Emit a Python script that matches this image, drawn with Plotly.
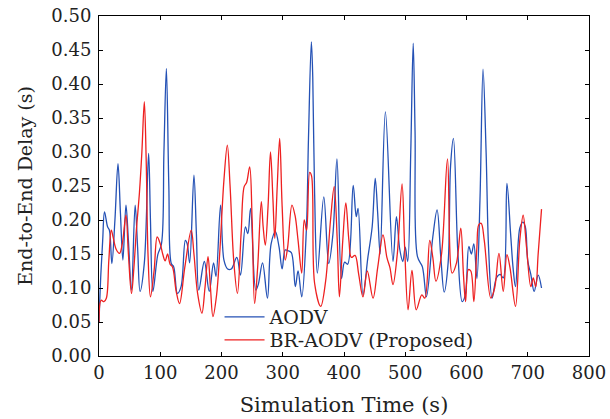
import plotly.graph_objects as go

# AODV series (simulation time in s, delay in s)
aodv_t = [0, 3, 6, 9, 14, 17, 21, 26, 31, 35, 39, 44, 48, 53, 59, 63, 67, 74, 81, 84, 88, 96, 102, 106, 110, 114, 118, 122, 128, 134, 141, 144, 148, 155, 159, 163, 172, 180, 187, 191, 198.5, 204, 210, 216, 225, 231, 239, 243, 247.5, 256, 260, 267, 275, 281, 288, 294, 299, 304, 308, 314, 320.5, 325, 331, 338.5, 342, 346.7, 349, 352, 356.5, 367, 375, 382, 388.5, 396, 401, 406, 415, 420, 423, 431, 439, 446, 451, 455, 459, 467.6, 480, 485.6, 491, 496, 500, 504, 509, 513, 516, 520, 528, 534.6, 545, 552, 558, 563.5, 570, 574, 578.7, 586, 593, 598, 603.8, 608, 612, 617, 622, 627, 632, 636, 641.8, 649, 655, 660, 666, 672, 676, 680, 687, 692, 696, 700, 705, 710.5, 717, 722.5]
aodv_d = [0.05, 0.12, 0.17, 0.212, 0.19, 0.185, 0.136, 0.2, 0.283, 0.21, 0.141, 0.222, 0.17, 0.097, 0.222, 0.16, 0.095, 0.137, 0.298, 0.2, 0.095, 0.149, 0.165, 0.3, 0.423, 0.25, 0.136, 0.131, 0.092, 0.102, 0.17, 0.165, 0.137, 0.266, 0.18, 0.097, 0.139, 0.095, 0.137, 0.117, 0.222, 0.141, 0.128, 0.128, 0.145, 0.119, 0.19, 0.18, 0.217, 0.097, 0.105, 0.137, 0.085, 0.165, 0.183, 0.16, 0.128, 0.156, 0.155, 0.152, 0.102, 0.125, 0.087, 0.185, 0.32, 0.462, 0.41, 0.24, 0.122, 0.234, 0.136, 0.18, 0.29, 0.114, 0.138, 0.135, 0.251, 0.205, 0.217, 0.09, 0.145, 0.19, 0.261, 0.21, 0.15, 0.359, 0.139, 0.205, 0.157, 0.139, 0.16, 0.139, 0.3, 0.46, 0.33, 0.146, 0.131, 0.087, 0.175, 0.215, 0.146, 0.094, 0.137, 0.28, 0.32, 0.15, 0.08, 0.09, 0.161, 0.15, 0.165, 0.114, 0.23, 0.422, 0.3, 0.16, 0.085, 0.115, 0.12, 0.115, 0.254, 0.18, 0.13, 0.102, 0.188, 0.197, 0.19, 0.14, 0.12, 0.095, 0.119, 0.10]

# BR-AODV (Proposed) series
br_t = [0, 3.5, 8, 12, 16, 20, 23, 28, 33.5, 38, 44, 48, 53, 57, 61, 66, 70, 74, 77, 80, 84, 90, 95, 100, 104, 108, 112, 116, 120, 126, 131.5, 140, 150.6, 155, 161, 168, 173, 178, 182, 186, 192, 197, 204, 209.5, 214, 220, 226, 232, 237, 241, 246, 250, 254, 259, 265, 268, 271.5, 276, 280, 284, 287, 291, 295, 299, 304, 308, 315, 320, 325, 331, 335, 339, 344, 347, 352, 362, 370, 378, 384, 389, 392.5, 398, 403, 408, 412, 418, 424, 431, 438, 447.4, 455, 463.7, 470, 475, 480, 487, 494.8, 499, 504.6, 511, 518, 527, 532, 540, 545, 550, 559, 569, 576.5, 583.7, 590.7, 595, 598.5, 603, 607, 612, 617, 620, 624, 629, 639.7, 646, 653, 660, 666, 671, 680, 687, 692.5, 698, 705, 709, 713, 717, 722.5]
br_d = [0.05, 0.082, 0.08, 0.085, 0.14, 0.185, 0.175, 0.157, 0.151, 0.165, 0.207, 0.15, 0.092, 0.13, 0.185, 0.24, 0.3, 0.374, 0.29, 0.15, 0.087, 0.126, 0.175, 0.165, 0.15, 0.14, 0.15, 0.135, 0.131, 0.095, 0.077, 0.13, 0.185, 0.15, 0.092, 0.063, 0.1, 0.146, 0.1, 0.058, 0.09, 0.15, 0.259, 0.31, 0.25, 0.14, 0.092, 0.18, 0.249, 0.255, 0.278, 0.2, 0.077, 0.13, 0.227, 0.19, 0.163, 0.22, 0.3, 0.23, 0.173, 0.25, 0.32, 0.22, 0.141, 0.16, 0.222, 0.207, 0.17, 0.122, 0.2, 0.185, 0.27, 0.265, 0.107, 0.073, 0.11, 0.2, 0.249, 0.17, 0.087, 0.17, 0.225, 0.17, 0.145, 0.148, 0.12, 0.087, 0.125, 0.085, 0.13, 0.178, 0.145, 0.13, 0.105, 0.15, 0.253, 0.16, 0.068, 0.126, 0.068, 0.09, 0.085, 0.17, 0.145, 0.11, 0.148, 0.29, 0.122, 0.137, 0.188, 0.12, 0.08, 0.127, 0.125, 0.08, 0.16, 0.193, 0.195, 0.17, 0.085, 0.1, 0.151, 0.095, 0.149, 0.13, 0.073, 0.17, 0.207, 0.16, 0.102, 0.115, 0.102, 0.15, 0.216]

x_ticks = [0, 100, 200, 300, 400, 500, 600, 700, 800]
y_ticks = [0.00, 0.05, 0.10, 0.15, 0.20, 0.25, 0.30, 0.35, 0.40, 0.45, 0.50]

FONT = "DejaVu Serif"
TXT = "#222"

fig = go.Figure()
fig.add_trace(go.Scatter(x=aodv_t, y=aodv_d, mode="lines", name="AODV", legend="legend",
                         line=dict(color="#2451b5", width=1.3, shape="spline", smoothing=1.0)))
fig.add_trace(go.Scatter(x=br_t, y=br_d, mode="lines", name="BR-AODV (Proposed)", legend="legend2",
                         line=dict(color="#ee2020", width=1.3, shape="spline", smoothing=1.0)))

axis_common = dict(showline=True, linecolor="black", linewidth=1, mirror="allticks",
                   ticks="inside", ticklen=4, tickcolor="black", showgrid=False, zeroline=False,
                   automargin=False, tickfont=dict(family=FONT, size=18, color=TXT))

fig.update_xaxes(range=[0, 800], tickvals=x_ticks, ticktext=[str(v) for v in x_ticks],
                 title=dict(text="Simulation Time (s)", font=dict(family=FONT, size=21, color=TXT), standoff=15),
                 **axis_common)
fig.update_yaxes(range=[0, 0.5], tickvals=y_ticks, ticktext=[f"{v:.2f}" for v in y_ticks],
                 ticklabelstandoff=3,
                 title=dict(text="End-to-End Delay (s)", font=dict(family=FONT, size=19, color=TXT), standoff=13),
                 **axis_common)

leg_common = dict(x=0.246, xanchor="left", yanchor="middle", bgcolor="rgba(0,0,0,0)",
                  font=dict(family=FONT, size=19, color=TXT), itemwidth=40)
fig.update_layout(
    width=610, height=419,
    margin=dict(l=99, r=21, t=16, b=63),
    paper_bgcolor="white", plot_bgcolor="white",
    showlegend=True,
    legend=dict(y=0.1147, **leg_common),
    legend2=dict(y=0.047, **leg_common),
)

fig.write_html("out.html", config={"displayModeBar": False},
               post_script="document.body.style.margin='0';document.body.style.padding='0';")
